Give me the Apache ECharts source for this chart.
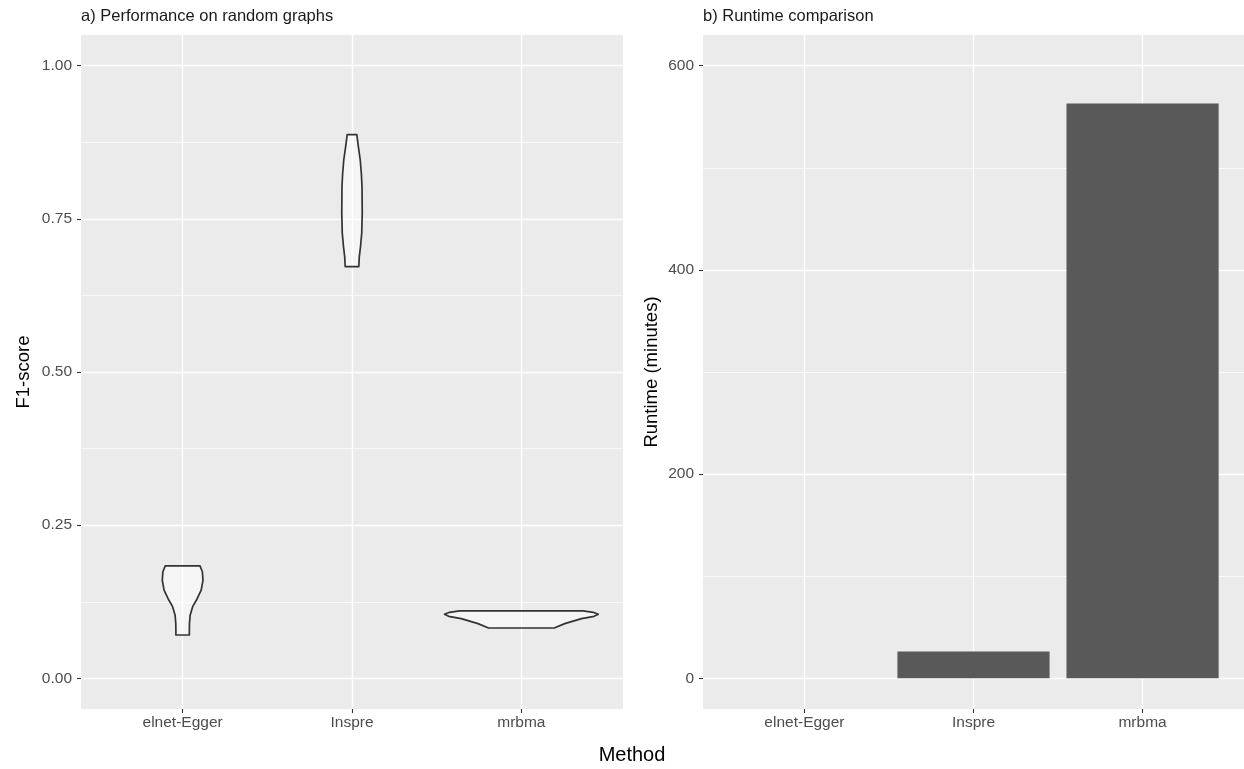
<!DOCTYPE html>
<html><head><meta charset="utf-8">
<script src="https://cdn.jsdelivr.net/npm/echarts@6/dist/echarts.min.js"></script>
<style>html,body{margin:0;padding:0;background:#fff}#c{width:1244px;height:769px}</style>
</head><body><div id="c"></div>
<script>
const categories = ['elnet-Egger', 'Inspre', 'mrbma'];
const f1Ticks = [0, 0.25, 0.5, 0.75, 1.0];
const f1MinorTicks = [0.125, 0.375, 0.625, 0.875];
const runtimeTicks = [0, 200, 400, 600];
const runtimeMinorTicks = [100, 300, 500];
// violin outlines: F1-score levels and half-widths (category units)
const elnetF1 = [0.0708, 0.089, 0.103, 0.117, 0.130, 0.144, 0.160, 0.174, 0.1835];
const elnetHalfWidth = [0.0396, 0.0402, 0.0444, 0.0592, 0.0858, 0.1095, 0.1201, 0.1166, 0.1024];
const inspreF1 = [0.6721, 0.6884, 0.7048, 0.7266, 0.7593, 0.8028, 0.8246, 0.8464, 0.8682, 0.8873];
const inspreHalfWidth = [0.0402, 0.0432, 0.0503, 0.0574, 0.0604, 0.0592, 0.0550, 0.0485, 0.0373, 0.0284];
const mrbmaF1 = [0.0822, 0.0893, 0.0975, 0.1013, 0.1046, 0.1078, 0.110];
const mrbmaHalfWidth = [0.194, 0.256, 0.355, 0.429, 0.454, 0.424, 0.365];
// runtime in minutes
const runtimeMinutes = [0, 26.4, 563];

const violins = [
  {lev: elnetF1, hw: elnetHalfWidth},
  {lev: inspreF1, hw: inspreHalfWidth},
  {lev: mrbmaF1, hw: mrbmaHalfWidth}
];

const FONT = 'Liberation Sans, Arial, sans-serif';
const tickLabelStyle = {color: '#4D4D4D', fontSize: 15.5, fontFamily: FONT};
const tickStyle = {length: 4, lineStyle: {color: '#333333', width: 1.1}};
const majorGrid = {show: true, lineStyle: {color: '#FFFFFF', width: 1.4}};
const minorGrid = {show: true, lineStyle: {color: '#FFFFFF', width: 0.7}};
const catPos = categories.map((c, i) => i + 1);

function xAxisFor(gi) {
  return {
    type: 'value', gridIndex: gi, min: 0.4, max: 3.6,
    axisLine: {show: false, onZero: false},
    axisTick: Object.assign({show: true, customValues: catPos}, tickStyle),
    axisLabel: Object.assign({customValues: catPos, margin: 6,
      formatter: v => categories[Math.round(v) - 1]}, tickLabelStyle),
    splitLine: majorGrid
  };
}
function yAxisFor(gi, min, max, ticks, fmt) {
  return {
    type: 'value', gridIndex: gi, min: min, max: max,
    axisLine: {show: false, onZero: false},
    axisTick: Object.assign({show: true, customValues: ticks}, tickStyle),
    axisLabel: Object.assign({customValues: ticks, margin: 9, formatter: fmt}, tickLabelStyle),
    splitLine: majorGrid
  };
}
function minorYAxisFor(gi, min, max, ticks) {
  return {
    type: 'value', gridIndex: gi, min: min, max: max, position: 'left',
    axisLine: {show: false, onZero: false},
    axisTick: {show: false, customValues: ticks},
    axisLabel: {show: false},
    splitLine: minorGrid
  };
}

const chart = echarts.init(document.getElementById('c'), null, {renderer: 'canvas'});
chart.setOption({
  animation: false,
  backgroundColor: '#FFFFFF',
  grid: [
    {left: 81, top: 35, width: 542, height: 674, show: true, backgroundColor: '#EBEBEB', borderWidth: 0},
    {left: 703, top: 35, width: 541, height: 674, show: true, backgroundColor: '#EBEBEB', borderWidth: 0}
  ],
  xAxis: [xAxisFor(0), xAxisFor(1)],
  yAxis: [
    yAxisFor(0, -0.05, 1.05, f1Ticks, v => v.toFixed(2)),
    minorYAxisFor(0, -0.05, 1.05, f1MinorTicks),
    yAxisFor(1, -30, 630, runtimeTicks, v => String(v)),
    minorYAxisFor(1, -30, 630, runtimeMinorTicks)
  ],
  series: [
    {
      type: 'custom', name: 'F1-score', xAxisIndex: 0, yAxisIndex: 0, z: 5,
      data: violins.map((v, i) => [i + 1, v.lev[0]]),
      renderItem: function (params, api) {
        const i = params.dataIndex;
        const pos = api.value(0);
        const v = violins[i];
        const pts = [];
        for (let k = 0; k < v.lev.length; k++) pts.push(api.coord([pos + v.hw[k], v.lev[k]]));
        for (let k = v.lev.length - 1; k >= 0; k--) pts.push(api.coord([pos - v.hw[k], v.lev[k]]));
        return {
          type: 'polygon', shape: {points: pts},
          style: {fill: 'rgba(255,255,255,0.5)', stroke: '#333333', lineWidth: 1.7, lineJoin: 'round'}
        };
      }
    },
    {
      type: 'custom', name: 'Runtime', xAxisIndex: 1, yAxisIndex: 2, z: 5,
      data: runtimeMinutes.map((v, i) => [i + 1, v]),
      renderItem: function (params, api) {
        const x = api.value(0), val = api.value(1);
        if (!(val > 0)) return null;
        const p0 = api.coord([x - 0.45, val]);
        const p1 = api.coord([x + 0.45, 0]);
        return {
          type: 'rect',
          shape: {x: p0[0], y: p0[1], width: p1[0] - p0[0], height: p1[1] - p0[1]},
          style: {fill: '#595959'}
        };
      }
    }
  ],
  graphic: [
    {type: 'text', x: 81, y: 16, style: {text: 'a) Performance on random graphs', fill: '#1A1A1A', fontSize: 16.5, fontFamily: FONT, textAlign: 'left', textVerticalAlign: 'middle'}},
    {type: 'text', x: 703, y: 16, style: {text: 'b) Runtime comparison', fill: '#1A1A1A', fontSize: 16.5, fontFamily: FONT, textAlign: 'left', textVerticalAlign: 'middle'}},
    {type: 'text', x: 24, y: 372, rotation: Math.PI / 2, style: {text: 'F1-score', fill: '#000000', fontSize: 18.5, fontFamily: FONT, textAlign: 'center', textVerticalAlign: 'middle'}},
    {type: 'text', x: 652, y: 372, rotation: Math.PI / 2, style: {text: 'Runtime (minutes)', fill: '#000000', fontSize: 18.5, fontFamily: FONT, textAlign: 'center', textVerticalAlign: 'middle'}},
    {type: 'text', x: 632, y: 755, style: {text: 'Method', fill: '#000000', fontSize: 20, fontFamily: FONT, textAlign: 'center', textVerticalAlign: 'middle'}}
  ]
});
</script></body></html>
